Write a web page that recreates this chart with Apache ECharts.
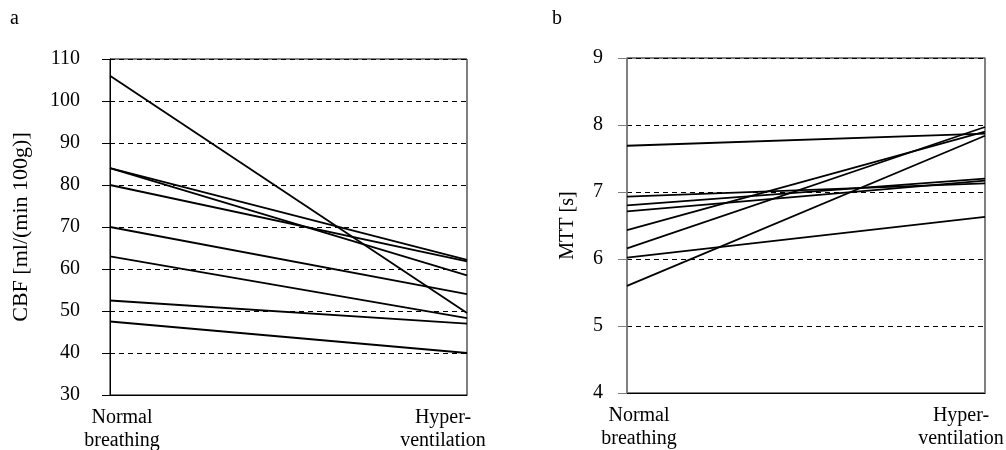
<!DOCTYPE html>
<html>
<head>
    <meta charset="utf-8">
    <title>CBF / MTT</title>
    <script src="https://cdn.jsdelivr.net/npm/echarts@6/dist/echarts.min.js"></script>
    <style type="text/css">
        html, body { margin: 0; padding: 0; background: #fff; }
        #chart { width: 1006px; height: 450px; }
    </style>
</head>
<body>
<div id="chart"></div>
<script>
    // categories on both x axes
    var conditions = ['Normal\nbreathing', 'Hyper-\nventilation'];

    // panel a: CBF per subject [ml/(min 100g)]
    var cbfNormal = [106, 84, 84, 80, 70, 63, 52.5, 47.5];
    var cbfHyper = [49.5, 62.2, 58.5, 61.8, 54, 48.3, 47, 40];

    // panel b: MTT per subject [s]
    var mttNormal = [7.69, 6.93, 6.80, 6.71, 6.43, 6.16, 6.02, 5.6];
    var mttHyper = [7.87, 7.13, 7.2, 7.17, 7.9, 7.97, 6.63, 7.84];

    var serif = "'Liberation Serif', 'Times New Roman', serif";
    var dash = {color: '#000', type: [5, 4], width: 1};

    function catLabels(v, i) {
        var tag = i === 0 ? 'l' : 'r';
        return v.split('\n').map(function (s) {
            return '{' + tag + '|' + s + '}';
        }).join('\n');
    }

    function xAxisFor(gi) {
        return {
            type: 'category',
            gridIndex: gi,
            data: conditions,
            boundaryGap: false,
            axisLine: {lineStyle: {color: '#000', width: 1}},
            axisTick: {show: false},
            splitLine: {show: false},
            axisLabel: {
                interval: 0,
                margin: 11,
                color: '#000',
                fontFamily: serif,
                fontSize: 20,
                lineHeight: 23,
                formatter: catLabels,
                rich: {
                    // padding moves first label right of its tick, last one left of it
                    l: {fontFamily: serif, fontSize: 20, lineHeight: 23, color: '#000', padding: [0, 0, 0, 24]},
                    r: {fontFamily: serif, fontSize: 20, lineHeight: 23, color: '#000', padding: [0, 48, 0, 0]}
                }
            }
        };
    }

    function lineSeries(gi, a, b) {
        var out = [];
        for (var i = 0; i < a.length; i++) {
            out.push({
                type: 'line',
                xAxisIndex: gi,
                yAxisIndex: gi,
                data: [a[i], b[i]],
                symbol: 'none',
                silent: true,
                lineStyle: {color: '#000', width: 1.8}
            });
        }
        return out;
    }

    var chart = echarts.init(document.getElementById('chart'));

    var option = {
        animation: false,
        backgroundColor: '#fff',
        title: [
            {text: 'a', left: 5, top: 4, textStyle: {fontFamily: serif, fontSize: 20, fontWeight: 'normal', color: '#000'}},
            {text: 'b', left: 547, top: 4, textStyle: {fontFamily: serif, fontSize: 20, fontWeight: 'normal', color: '#000'}}
        ],
        grid: [
            {left: 110, top: 59, width: 357, height: 336, show: true, borderColor: '#000', borderWidth: 1,
                containLabel: false, outerBoundsMode: 'none'},
            {left: 627, top: 58, width: 358, height: 335, show: true, borderColor: '#000', borderWidth: 1,
                containLabel: false, outerBoundsMode: 'none'}
        ],
        xAxis: [xAxisFor(0), xAxisFor(1)],
        yAxis: [
            {
                type: 'value',
                gridIndex: 0,
                min: 30,
                max: 110,
                interval: 10,
                name: 'CBF [ml/(min 100g)]',
                nameLocation: 'middle',
                nameGap: 78,
                nameTextStyle: {fontFamily: serif, fontSize: 22, color: '#000'},
                axisLine: {show: true, lineStyle: {color: '#000', width: 1}},
                axisTick: {show: true, length: 8, lineStyle: {color: '#000'}},
                axisLabel: {margin: 30, color: '#000', fontFamily: serif, fontSize: 20},
                splitLine: {show: true, lineStyle: dash}
            },
            {
                type: 'value',
                gridIndex: 1,
                min: 4,
                max: 9,
                interval: 1,
                name: 'MTT [s]',
                nameLocation: 'middle',
                nameGap: 49,
                nameTextStyle: {fontFamily: serif, fontSize: 20, color: '#000'},
                axisLine: {show: true, lineStyle: {color: '#808080', width: 1.5}},
                axisTick: {show: true, length: 9, lineStyle: {color: '#808080'}},
                axisLabel: {margin: 24, color: '#000', fontFamily: serif, fontSize: 20},
                splitLine: {show: true, lineStyle: dash}
            },
            {
                type: 'value',
                gridIndex: 1,
                position: 'right',
                min: 4,
                max: 9,
                axisLine: {show: true, lineStyle: {color: '#808080', width: 1.5}},
                axisTick: {show: false},
                axisLabel: {show: false},
                splitLine: {show: false}
            }
        ],
        series: lineSeries(0, cbfNormal, cbfHyper).concat(lineSeries(1, mttNormal, mttHyper))
    };

    chart.setOption(option);
</script>
</body>
</html>
